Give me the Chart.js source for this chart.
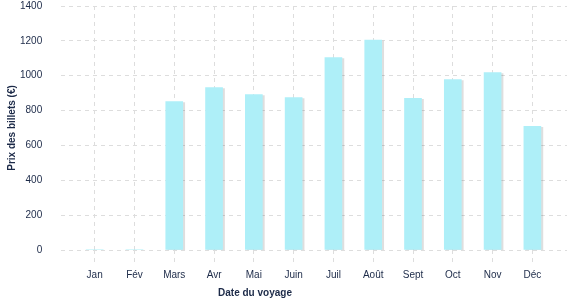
<!DOCTYPE html>
<html lang="fr">
<head>
<meta charset="UTF-8">
<title>Prix des billets</title>
<script src="https://cdn.jsdelivr.net/npm/chart.js"></script>
<style>
  html, body { margin: 0; padding: 0; background: #fff; }
  #wrap { width: 577px; height: 300px; }
</style>
</head>
<body>
<div id="wrap"><canvas id="priceChart"></canvas></div>
<script>
const months = ['Jan', 'Fév', 'Mars', 'Avr', 'Mai', 'Juin', 'Juil', 'Août', 'Sept', 'Oct', 'Nov', 'Déc'];
const prices = [3, 3, 852, 932, 892, 875, 1104, 1205, 870, 978, 1018, 710];
const yTicks = [0, 200, 400, 600, 800, 1000, 1200, 1400];

const ink = '#1c2a48';
const gridCol = '#dddddd';
const font = 'Liberation Sans, Arial, sans-serif';

// petite ombre grise à droite des barres
const barShadow = {
  id: 'barShadow',
  beforeDatasetDraw(chart) {
    const ctx = chart.ctx;
    ctx.save();
    ctx.shadowColor = 'rgba(0,0,0,0.13)';
    ctx.shadowOffsetX = 2;
    ctx.shadowOffsetY = 1;
    ctx.shadowBlur = 0;
  },
  afterDatasetDraw(chart) {
    chart.ctx.restore();
  }
};

// titre de l'axe x, un peu décalé vers la gauche comme sur l'original
const xTitle = {
  id: 'xTitle',
  afterDraw(chart) {
    const ctx = chart.ctx;
    ctx.save();
    ctx.font = 'bold 10px ' + font;
    ctx.fillStyle = ink;
    ctx.textAlign = 'center';
    ctx.textBaseline = 'middle';
    ctx.fillText('Date du voyage', 255, 293);
    ctx.restore();
  }
};

new Chart('priceChart', {
  type: 'bar',
  data: {
    datasets: [{
      data: prices.map((p, i) => ({ x: i + 1, y: p })),
      backgroundColor: '#aeeff8',
      borderWidth: 0,
      barThickness: 17
    }]
  },
  plugins: [barShadow, xTitle],
  options: {
    responsive: true,
    maintainAspectRatio: false,
    animation: false,
    layout: { padding: { top: 0, right: 10, bottom: 13, left: 6 } },
    plugins: {
      legend: { display: false },
      tooltip: { enabled: false }
    },
    scales: {
      x: {
        type: 'linear',
        offset: false,
        min: 0.16,
        max: 12.87,
        afterBuildTicks: axis => { axis.ticks = months.map((m, i) => ({ value: i + 1 })); },
        ticks: {
          callback: v => months[v - 1],
          color: ink,
          font: { family: font, size: 10 },
          padding: 6,
          maxRotation: 0,
          autoSkip: false
        },
        grid: {
          offset: false,
          color: gridCol,
          lineWidth: 1,
          tickLength: 13,
          tickColor: gridCol,
          tickBorderDash: [4, 4]
        },
        border: { display: false, dash: [4, 4] }
      },
      y: {
        min: 0,
        max: 1400,
        afterBuildTicks: axis => { axis.ticks = yTicks.map(v => ({ value: v })); },
        ticks: {
          callback: v => String(v),
          color: ink,
          font: { family: font, size: 10 },
          padding: 0
        },
        grid: {
          color: gridCol,
          lineWidth: 1,
          drawTicks: true,
          tickLength: 19,
          tickColor: 'rgba(0,0,0,0)'
        },
        border: { display: false, dash: [4, 4] },
        title: {
          display: true,
          text: 'Prix des billets (€)',
          color: ink,
          font: { family: font, size: 10, weight: 'bold' },
          padding: { top: 0, bottom: 2 }
        }
      }
    }
  }
});
</script>
</body>
</html>
